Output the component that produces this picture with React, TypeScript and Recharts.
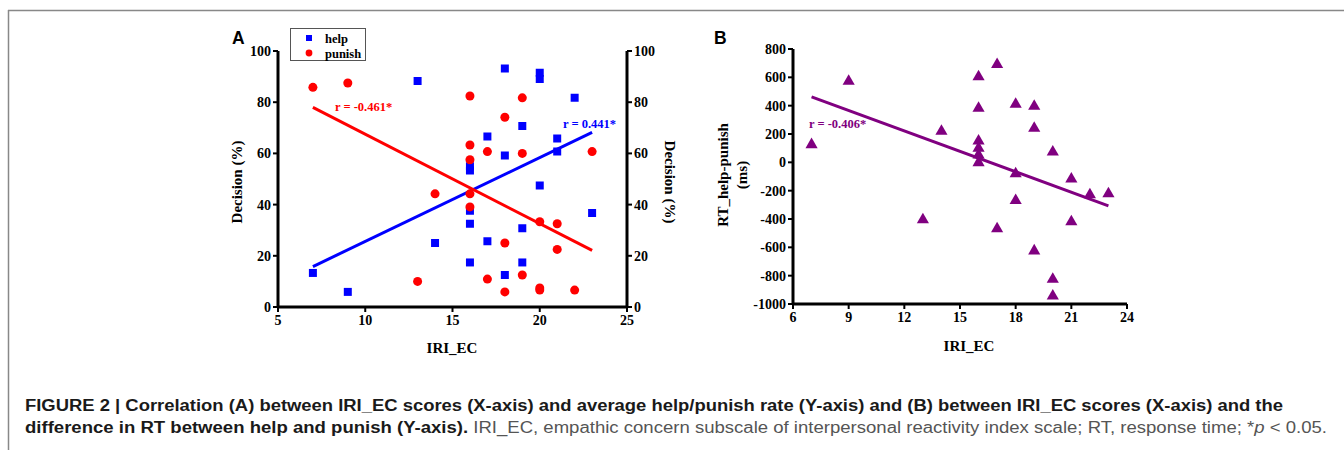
import React from 'react';
import { ScatterChart, Scatter, XAxis, YAxis, ZAxis, ReferenceLine, Legend } from 'recharts';

// Panel A: IRI_EC score vs help / punish rate (%)
const iriA = [7, 9, 13, 14, 16, 16, 16, 16, 16, 17, 17, 18, 18, 18, 19, 19, 19, 20, 20, 20, 21, 21, 22, 23];
const helpRate = [13.3, 5.9, 88.3, 25, 55, 53.3, 37.6, 32.5, 17.4, 66.6, 25.7, 93.2, 59.2, 12.5, 70.7, 30.8, 17.4, 91.5, 89.1, 47.5, 65.8, 60.7, 81.7, 36.7];
const punishRate = [85.8, 87.5, 10, 44.2, 82.4, 63.3, 57.5, 44.2, 39.1, 60.7, 10.9, 74.1, 25, 5.9, 81.7, 60, 12.5, 33.3, 7.4, 6.6, 32.5, 22.5, 6.6, 60.7];
const helpFit = [{ x: 7, y: 15.8 }, { x: 23, y: 68.2 }];
const punishFit = [{ x: 7, y: 78.0 }, { x: 23, y: 22.1 }];
const ticksAX = [5, 10, 15, 20, 25];
const ticksAY = [0, 20, 40, 60, 80, 100];

// Panel B: IRI_EC score vs RT difference (ms)
const iriB = [7, 9, 13, 14, 16, 16, 16, 16, 16, 16, 17, 17, 18, 18, 18, 19, 19, 19, 20, 20, 20, 21, 21, 22, 23];
const rtDiff = [125, 573, -406, 219, 604, 382, 151, 99, 52, -2, 691, -469, 410, -80, -269, 396, 240, -625, 73, -825, -943, -118, -420, -229, -222];
const rtFit = [{ x: 7, y: 462 }, { x: 23, y: -307 }];
const ticksBX = [6, 9, 12, 15, 18, 21, 24];
const ticksBY = [-1000, -800, -600, -400, -200, 0, 200, 400, 600, 800];

const helpData = iriA.map((x, i) => ({ x, y: helpRate[i] }));
const punishData = iriA.map((x, i) => ({ x, y: punishRate[i] }));
const rtData = iriB.map((x, i) => ({ x, y: rtDiff[i] }));

const BLUE = '#0000ff';
const RED = '#ff0000';
const PURPLE = '#800080';
const SERIF = '"Liberation Serif", "Times New Roman", serif';
const SANS = '"Liberation Sans", Arial, sans-serif';

const tickStyle = { fill: '#000', fontSize: 14, fontWeight: 700, fontFamily: SERIF };
const axisLine = { stroke: '#000', strokeWidth: 3 };
const tickLine = { stroke: '#000', strokeWidth: 2 };

const LegendBox = () => (
  <div style={{ width: 76, height: 33, border: '1px solid #555', boxSizing: 'border-box', background: '#fff' }}>
    <svg width={74} height={31} style={{ display: 'block', overflow: 'visible' }}>
      <rect x={15} y={6} width={6} height={6} fill={BLUE} />
      <circle cx={18} cy={24} r={3.4} fill={RED} />
      <text x={34} y={13.5} fontFamily={SERIF} fontWeight={700} fontSize={12.5}>help</text>
      <text x={34} y={28.5} fontFamily={SERIF} fontWeight={700} fontSize={12.5}>punish</text>
    </svg>
  </div>
);

const App = () => {
  return (
    <div style={{ position: 'absolute', left: 0, top: 0, width: 1344, height: 450, background: '#fff', overflow: 'hidden' }}>
      {/* Panel A */}
      <div style={{ position: 'absolute', left: 200, top: 20 }}>
        <ScatterChart width={500} height={340} margin={{ top: 31, right: 13, bottom: 23, left: 18 }}>
          <XAxis type="number" dataKey="x" domain={[5, 25]} ticks={ticksAX} tick={tickStyle}
            axisLine={axisLine} tickLine={tickLine} tickSize={5} tickMargin={3} height={30} />
          <YAxis yAxisId="left" type="number" dataKey="y" domain={[0, 100]} ticks={ticksAY} tick={tickStyle} allowDataOverflow
            axisLine={axisLine} tickLine={tickLine} tickSize={5} tickMargin={2} width={60} />
          <YAxis yAxisId="right" orientation="right" type="number" dataKey="y" domain={[0, 100]} ticks={ticksAY} tick={tickStyle} allowDataOverflow
            axisLine={axisLine} tickLine={tickLine} tickSize={5} tickMargin={2} width={60} />
          <ZAxis range={[34, 34]} />
          <Legend layout="vertical" align="center" verticalAlign="middle" content={() => <LegendBox />}
            wrapperStyle={{ left: 90, top: 8, width: 76, height: 33 }} />
          <Scatter name="help" yAxisId="left" data={helpData} fill={BLUE} shape="square" isAnimationActive={false} />
          <Scatter name="punish" yAxisId="right" data={punishData} fill={RED} shape="circle" isAnimationActive={false} />
          <ReferenceLine yAxisId="left" segment={helpFit} stroke={BLUE} strokeWidth={3} ifOverflow="visible" />
          <ReferenceLine yAxisId="right" segment={punishFit} stroke={RED} strokeWidth={3} ifOverflow="visible" />
        </ScatterChart>
      </div>

      {/* Panel B */}
      <div style={{ position: 'absolute', left: 700, top: 20 }}>
        <ScatterChart width={460} height={340} margin={{ top: 29, right: 33, bottom: 26, left: 13 }}>
          <XAxis type="number" dataKey="x" domain={[6, 24]} ticks={ticksBX} tick={tickStyle}
            axisLine={axisLine} tickLine={tickLine} tickSize={5} tickMargin={3} height={30} />
          <YAxis type="number" dataKey="y" domain={[-1000, 800]} ticks={ticksBY} tick={tickStyle}
            axisLine={axisLine} tickLine={tickLine} tickSize={5} tickMargin={2} width={80} />
          <ZAxis range={[22, 22]} />
          <Scatter name="RT" data={rtData} fill={PURPLE} shape="triangle" isAnimationActive={false} />
          <ReferenceLine segment={rtFit} stroke={PURPLE} strokeWidth={3} ifOverflow="visible" />
        </ScatterChart>
      </div>

      {/* labels, frame and caption */}
      <svg width={1344} height={450} style={{ position: 'absolute', left: 0, top: 0, pointerEvents: 'none' }}>
        <line x1={8} y1={10.5} x2={1344} y2={10.5} stroke="#888" strokeWidth={1.5} />
        <line x1={8.5} y1={10} x2={8.5} y2={450} stroke="#888" strokeWidth={1.5} />

        <text x={232} y={44} fontFamily={SANS} fontWeight={700} fontSize={17.5}>A</text>
        <text x={714} y={44} fontFamily={SANS} fontWeight={700} fontSize={17.5}>B</text>

        <g fontFamily={SERIF} fontWeight={700} fontSize={15} fill="#000">
          <text x={237} y={182} textAnchor="middle" dominantBaseline="central" transform="rotate(-90 237 182)">Decision (%)</text>
          <text x={670} y={182} textAnchor="middle" dominantBaseline="central" transform="rotate(90 670 182)">Decision (%)</text>
          <text x={452} y={348} textAnchor="middle" dominantBaseline="central">IRI_EC</text>
          <text x={969} y={346} textAnchor="middle" dominantBaseline="central">IRI_EC</text>
          <text x={723} y={175} textAnchor="middle" dominantBaseline="central" transform="rotate(-90 723 175)">RT_help-punish</text>
          <text x={742} y={175} textAnchor="middle" dominantBaseline="central" transform="rotate(-90 742 175)">(ms)</text>
        </g>
        <g fontFamily={SERIF} fontWeight={700} fontSize={12.5}>
          <text x={335} y={107} dominantBaseline="central" fill={RED}>r = -0.461*</text>
          <text x={563} y={124} dominantBaseline="central" fill={BLUE}>r = 0.441*</text>
          <text x={809} y={124} dominantBaseline="central" fill={PURPLE}>r = -0.406*</text>
        </g>

        <g fontFamily={SANS} fontSize={16}>
          <text x={25} y={411} textLength={1258} lengthAdjust="spacingAndGlyphs" fontWeight={700} fill="#1a1a1a">
            FIGURE 2 | Correlation (A) between IRI_EC scores (X-axis) and average help/punish rate (Y-axis) and (B) between IRI_EC scores (X-axis) and the
          </text>
          <text x={25} y={433} textLength={1302} lengthAdjust="spacingAndGlyphs">
            <tspan fontWeight={700} fill="#1a1a1a">difference in RT between help and punish (Y-axis).</tspan>
            <tspan fill="#555"> IRI_EC, empathic concern subscale of interpersonal reactivity index scale; RT, response time; *</tspan>
            <tspan fill="#555" fontStyle="italic">p</tspan>
            <tspan fill="#555"> &lt; 0.05.</tspan>
          </text>
        </g>
      </svg>
    </div>
  );
};

export default App;
